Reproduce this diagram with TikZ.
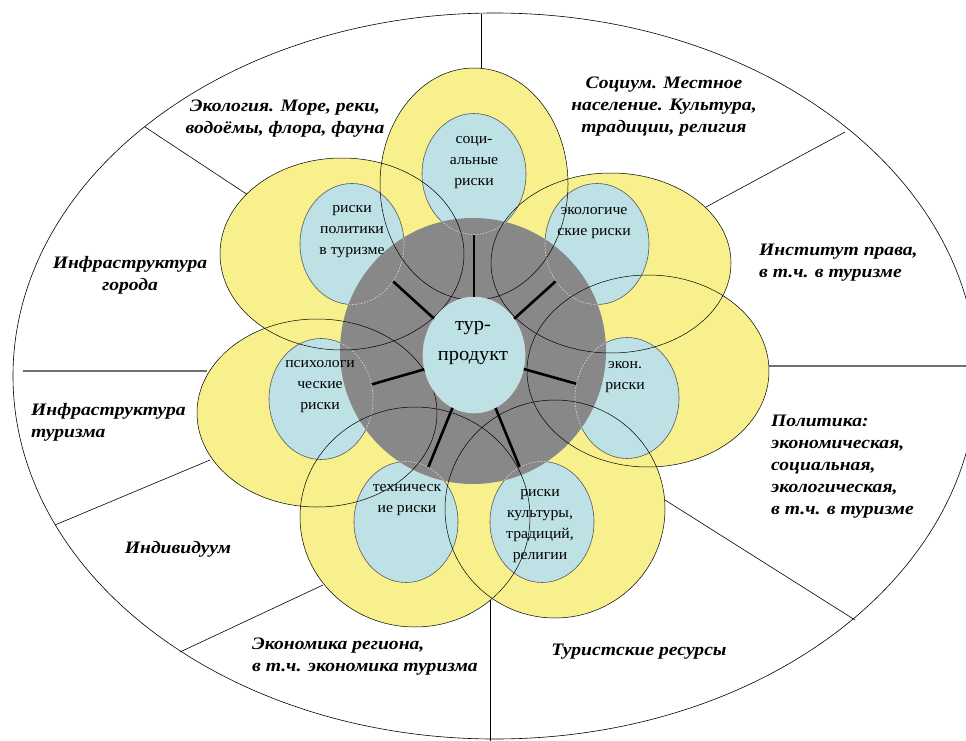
\documentclass[tikz,border=0pt]{standalone}
\usepackage{fontspec}
\setmainfont{Liberation Serif}
\newfontfamily\riskfam{Liberation Serif}[FakeStretch=1.05]
\newfontfamily\labfam{Liberation Serif}[FakeStretch=1.12]
\usetikzlibrary{shapes.geometric}
\definecolor{petal}{HTML}{F7F08C}
\definecolor{pale}{HTML}{BEE1E6}
\definecolor{ringgray}{HTML}{888888}
\definecolor{divgray}{HTML}{707070}
\tikzset{
  riskel/.style={ellipse, fill=pale, draw=black!65, line width=0.6pt, inner sep=0pt,
                 minimum width=104pt, minimum height=121pt},
  risktxt/.style={align=center, inner sep=0pt, font=\riskfam\fontsize{15}{21}\selectfont},
  lab/.style={inner sep=0pt, font=\labfam\fontsize{17.5}{22}\selectfont\bfseries\itshape},
  spoke/.style={line width=2.6pt, black},
  divline/.style={line width=0.6pt, black},
  hline/.style={line width=1.2pt, divgray},
  yline/.style={draw=black, line width=0.5pt},
  ghost/.style={draw=white!75!gray, line width=0.6pt, dash pattern=on 1.5pt off 1.5pt}
}
\begin{document}
\begin{tikzpicture}[x=1pt,y=-1pt]
\useasboundingbox (0,0) rectangle (966,741);
\clip (0,0) rectangle (966,741);
\fill[white] (0,0) rectangle (966,741);

% outer ellipse and division lines
\draw[divline] (495,376) ellipse [x radius=482, y radius=363];
\coordinate (t1) at (481,14);   \coordinate (t2) at (481,68);
\coordinate (ul1) at (145,127); \coordinate (ul2) at (248,195);
\coordinate (ur1) at (845,132); \coordinate (ur2) at (706,207);
\coordinate (l1) at (23,371);   \coordinate (l2) at (207,371);
\coordinate (r1) at (768,366);  \coordinate (r2) at (966,366);
\coordinate (ll1) at (55,525);  \coordinate (ll2) at (210,460);
\coordinate (lb1) at (180,652); \coordinate (lb2) at (323,585);
\coordinate (b1) at (490,600);  \coordinate (b2) at (490,741);
\coordinate (lr1) at (855,620); \coordinate (lr2) at (665,500);
\draw[divline] (t1) -- (t2);
\draw[divline] (ul1) -- (ul2);
\draw[divline] (ur1) -- (ur2);
\draw[divline] (ll1) -- (ll2);
\draw[divline] (lb1) -- (lb2);
\draw[divline] (b1) -- (b2);
\draw[divline] (lr1) -- (lr2);
\draw[hline] (l1) -- (l2);
\draw[hline] (r1) -- (r2);

% yellow petals (fill)
\fill[petal] (474,184) ellipse [x radius=94, y radius=116];
\fill[petal] (342,254) ellipse [x radius=122, y radius=96];
\fill[petal] (611,263) ellipse [x radius=120, y radius=90];
\fill[petal] (648,371) ellipse [x radius=121, y radius=96];
\fill[petal] (317,413) ellipse [x radius=120, y radius=94];
\fill[petal] (415,517) ellipse [x radius=115, y radius=110];
\fill[petal] (555,509) ellipse [x radius=110, y radius=109];

% blue risk ellipses
\node[riskel] (soc) at (474,174) {};
\node[riskel] (pol) at (352,244) {};
\node[riskel] (eco) at (597,244) {};
\node[riskel] (econ) at (627,398) {};
\node[riskel] (psy) at (321,399) {};
\node[riskel] (tech) at (406,522) {};
\node[riskel] (cult) at (542,522) {};

% gray ring
\node[circle, fill=ringgray, inner sep=0pt, minimum size=266pt] (ring) at (473,351) {};
\begin{scope}
  \clip (473,351) circle [radius=133];
  \draw[ghost] (474,174) ellipse [x radius=52, y radius=60.5];
  \draw[ghost] (352,244) ellipse [x radius=52, y radius=60.5];
  \draw[ghost] (597,244) ellipse [x radius=52, y radius=60.5];
  \draw[ghost] (627,398) ellipse [x radius=52, y radius=60.5];
  \draw[ghost] (321,399) ellipse [x radius=52, y radius=60.5];
  \draw[ghost] (406,522) ellipse [x radius=52, y radius=60.5];
  \draw[ghost] (542,522) ellipse [x radius=52, y radius=60.5];
\end{scope}

% yellow petal outlines
\draw[yline] (474,184) ellipse [x radius=94, y radius=116];
\draw[yline] (342,254) ellipse [x radius=122, y radius=96];
\draw[yline] (611,263) ellipse [x radius=120, y radius=90];
\draw[yline] (648,371) ellipse [x radius=121, y radius=96];
\draw[yline] (317,413) ellipse [x radius=120, y radius=94];
\draw[yline] (415,517) ellipse [x radius=115, y radius=110];
\draw[yline] (555,509) ellipse [x radius=110, y radius=109];

% centre
\node[ellipse, fill=pale, draw=white!70!gray, line width=0.6pt, inner sep=0pt,
      minimum width=102pt, minimum height=116pt] (prod) at (474,355) {};
\draw[spoke] (prod) -- (soc);
\draw[spoke] (prod) -- (pol);
\draw[spoke] (prod) -- (eco);
\draw[spoke] (prod) -- (econ);
\draw[spoke] (prod) -- (psy);
\draw[spoke] (prod) -- (tech);
\draw[spoke] (prod) -- (cult);

% texts in ellipses
\node[risktxt, font=\riskfam\fontsize{19.5}{30}\selectfont] (prodt) at (473,343) {тур-\\продукт};
\node[risktxt] (soct) at (474,163) {соци-\\альные\\риски};
\node[risktxt] (polt) at (352,232) {риски\\политики\\в туризме};
\node[risktxt] (ecot) at (594,223) {экологиче\\ские риски};
\node[risktxt] (econt) at (625,377) {экон.\\риски};
\node[risktxt] (psyt) at (320,387) {психологи\\ческие\\риски};
\node[risktxt] (techt) at (407,500) {техническ\\ие риски};
\node[risktxt] (cultt) at (540,526) {риски\\культуры,\\традиций,\\религии};

% outer labels
\node[lab, align=center] (Lecol) at (285,119) {Экология. Море, реки,\\водоёмы, флора, фауна};
\node[lab, align=center] (Lsoc) at (664,107) {Социум. Местное\\население. Культура,\\традиции, религия};
\node[lab, align=left, anchor=west] (Llaw) at (759,263) {Институт права,\\в т.ч. в туризме};
\node[lab, align=center] (Lcity) at (130,275) {Инфраструктура\\города};
\node[lab, align=left, anchor=west] (Linfra) at (31,422) {Инфраструктура\\туризма};
\node[lab] (Lind) at (178,549) {Индивидуум};
\node[lab, align=left, anchor=west] (Lreg) at (252,657) {Экономика региона,\\в т.ч. экономика туризма};
\node[lab] (Lres) at (639,652) {Туристские ресурсы};
\node[lab, align=left, anchor=west] (Lpol) at (771,467) {Политика:\\экономическая,\\социальная,\\экологическая,\\в т.ч. в туризме};
\end{tikzpicture}
\end{document}
